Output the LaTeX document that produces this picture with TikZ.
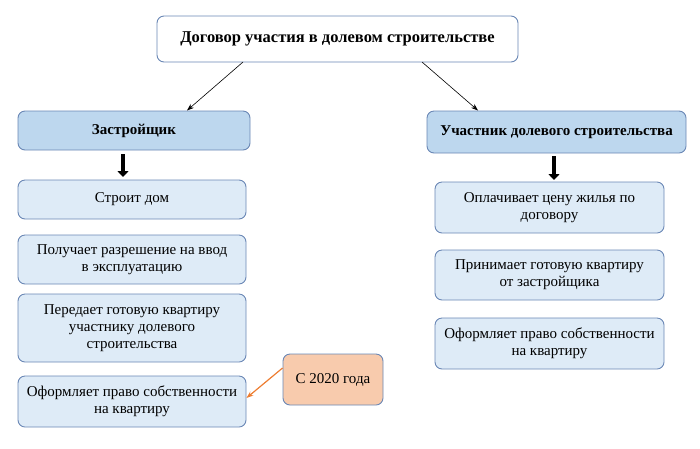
\documentclass[tikz,border=0pt]{standalone}
\usepackage{fontspec}
\setmainfont{Liberation Serif}
\usetikzlibrary{arrows.meta}
\definecolor{hdrfill}{HTML}{BDD7EE}
\definecolor{itemfill}{HTML}{DEEBF7}
\definecolor{bordc}{HTML}{6A87B5}
\definecolor{orfill}{HTML}{F8CBAD}
\definecolor{orline}{HTML}{ED7D31}
\begin{document}
\begin{tikzpicture}[x=1pt,y=-1pt,
  box/.style={draw=bordc,line width=0.9pt,rounded corners=7pt,align=center,inner sep=2pt,font=\fontsize{15}{17}\selectfont},
  titlebox/.style={box,fill=white,font=\bfseries\fontsize{16.5}{19}\selectfont},
  hdr/.style={box,fill=hdrfill,font=\bfseries\fontsize{15}{17}\selectfont},
  item/.style={box,fill=itemfill},
  note/.style={box,fill=orfill},
  thin/.style={-{Stealth[length=7pt,width=5pt]},line width=0.6pt},
  thick/.style={-{Triangle[length=6pt,width=11pt]},line width=4pt},
  orarrow/.style={-{Stealth[length=7pt,width=5pt]},line width=1.2pt,draw=orline}
]
\useasboundingbox (0,0) rectangle (700,448);
\node[titlebox,minimum width=361pt,minimum height=46pt] (top) at (337.5,39) {Договор участия в долевом строительстве};
\node[hdr,minimum width=232pt,minimum height=39pt] (zastr) at (134,130.5) {Застройщик};
\node[hdr,minimum width=259pt,minimum height=42pt] (uch) at (556.5,132) {Участник долевого строительства};
\node[item,minimum width=228pt,minimum height=39pt] (l1) at (132,199.5) {Строит дом};
\node[item,minimum width=228pt,minimum height=49pt] (l2) at (132,259.5) {Получает разрешение на ввод\\в эксплуатацию};
\node[item,minimum width=228pt,minimum height=68pt] (l3) at (132,328) {Передает готовую квартиру\\участнику долевого\\строительства};
\node[item,minimum width=228pt,minimum height=51pt] (l4) at (132,401.5) {Оформляет право собственности\\на квартиру};
\node[note,minimum width=100pt,minimum height=51pt] (n) at (333,379.5) {С 2020 года};
\node[item,minimum width=229pt,minimum height=51pt] (r1) at (549.5,207.5) {Оплачивает цену жилья по\\договору};
\node[item,minimum width=229pt,minimum height=50pt] (r2) at (549.5,275) {Принимает готовую квартиру\\от застройщика};
\node[item,minimum width=229pt,minimum height=51pt] (r3) at (549.5,343.5) {Оформляет право собственности\\на квартиру};
\coordinate (ta) at (243,62);
\coordinate (tb) at (422,62);
\draw[thin] (ta) -- (187,110.5);
\draw[thin] (tb) -- (478,110.5);
\draw[thick] (123,154) -- (123,177);
\draw[thick] (554,156) -- (554,180);
\draw[orarrow] (n.west|-368,368) -- (l4.east|-398,398);
\end{tikzpicture}
\end{document}
